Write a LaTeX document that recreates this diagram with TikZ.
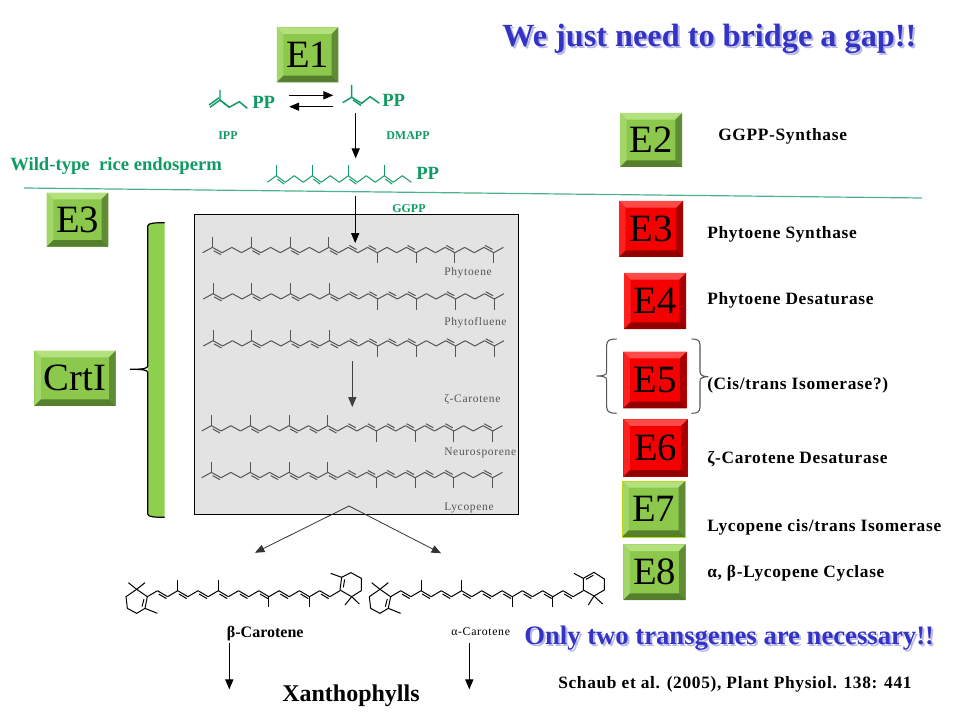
\documentclass[tikz,border=0pt]{standalone}
\usepackage{fontspec}
\setmainfont{Liberation Serif}
\newfontfamily\spaced[LetterSpace=6]{Liberation Serif}
\newfontfamily\spacedbf[LetterSpace=4]{Liberation Serif Bold}
\usetikzlibrary{arrows}
\usetikzlibrary{calc}
\definecolor{leafgreen}{HTML}{119A62}
\definecolor{titleblue}{HTML}{3333C4}
\definecolor{greyink}{HTML}{555555}
\tikzset{
 bond/.style = {line width=0.75pt},
 arrow/.style = {-triangle 45, line width=0.7pt},
 boxsize/.style 2 args = {minimum width=#1*0.75pt, minimum height=#2*0.75pt},
 bevel/.style n args = {5}{fill=#1, path picture={
   \coordinate (nw) at (path picture bounding box.north west);
   \coordinate (ne) at (path picture bounding box.north east);
   \coordinate (sw) at (path picture bounding box.south west);
   \coordinate (se) at (path picture bounding box.south east);
   \fill[#2] (nw) -- (ne) -- ([shift={(-5pt,-5pt)}]ne) -- ([shift={(5pt,-5pt)}]nw) -- cycle;
   \fill[#3] (nw) -- (sw) -- ([shift={(5pt,5pt)}]sw) -- ([shift={(5pt,-5pt)}]nw) -- cycle;
   \fill[#4] (ne) -- (se) -- ([shift={(-5pt,5pt)}]se) -- ([shift={(-5pt,-5pt)}]ne) -- cycle;
   \fill[#5] (sw) -- (se) -- ([shift={(-5pt,5pt)}]se) -- ([shift={(5pt,5pt)}]sw) -- cycle;
 }},
 enzbox/.style = {inner sep=0pt, font=\fontsize{29}{29}\selectfont},
 greenbox/.style = {enzbox, bevel={greenface}{greentop}{greenleft}{greenright}{greenbot}},
 redbox/.style = {enzbox, bevel={redface}{redtop}{redleft}{redright}{redbot}},
 enzlabel/.style = {anchor=west, inner sep=0pt, font=\fontsize{13}{13}\spacedbf},
 greenlabel/.style = {anchor=west, inner sep=0pt, text=leafgreen, font=\fontsize{9}{9}\bfseries\selectfont},
 pplabel/.style = {anchor=west, inner sep=0pt, text=leafgreen, font=\fontsize{14}{14}\bfseries\selectfont},
 boxlabel/.style = {anchor=west, inner sep=0pt, text=greyink, font=\fontsize{8.6}{9}\spaced},
 bluetitle/.style = {anchor=west, inner sep=0pt, text=titleblue, font=\fontsize{24.2}{25}\bfseries\selectfont},
 blueshadow/.style = {bluetitle, text=titleblue!35},
}
\definecolor{greenface}{HTML}{8CC84B}
\definecolor{greentop}{HTML}{B4E07E}
\definecolor{greenleft}{HTML}{A2D668}
\definecolor{greenright}{HTML}{5F8C34}
\definecolor{greenbot}{HTML}{557F2D}
\definecolor{barfill}{HTML}{8FD14F}
\definecolor{redface}{HTML}{F50000}
\definecolor{redtop}{HTML}{FF4A4A}
\definecolor{redleft}{HTML}{FF2020}
\definecolor{redright}{HTML}{A80000}
\definecolor{redbot}{HTML}{930000}
% colour, start x, start y, step x, step y, last index, methyls, double bonds, flip index
\newcommand{\isochain}[9]{
 \begin{scope}[shift={(#2,#3)},bond,color=#1]
 \foreach \i in {0,...,#6} {
   \pgfmathsetmacro{\yy}{isodd(\i)?-#5:0}
   \coordinate (p\i) at (#4*\i,\yy);
 }
 \foreach \i [remember=\i as \j (initially 0)] in {1,...,#6}
   \draw (p\j) -- (p\i);
 \foreach \i/\s in {#7}
   \draw (p\i) -- ($(p\i)+(0,\s*10.5)$);
 \foreach \i in {#8} {
   \pgfmathtruncatemacro{\k}{\i+1}
   \pgfmathsetmacro{\off}{\i<#9?2.6:-2.6}
   \draw ($(p\i)!.12!(p\k)+(0,\off)$) -- ($(p\i)!.88!(p\k)+(0,\off)$);
 }
 \end{scope}
}
\newcommand{\leftring}[1]{
 \begin{scope}[shift={(#1,500)},x=0.25pt,y=-0.25pt,bond]
 \draw (82,290) -- (50,268) -- (18,290) -- (22,325) -- (50,340) -- (75,325) -- cycle;
 \draw (72,297) -- (66,320);
 \draw (50,268) -- (25,248) (50,268) -- (75,248);
 \draw (75,325) -- (112,340);
 \end{scope}
}
\begin{document}
\begin{tikzpicture}[x=0.75pt,y=-0.75pt]
\useasboundingbox (0,0) rectangle (960,720);

% grey panel with the chains
\node[draw=black, line width=0.8pt, fill=black!11, boxsize={324.5}{300.5}, inner sep=0pt] (panel) at (356.3,364.6) {};
\isochain{greyink}{202.7}{252.7}{9.7}{5.3}{31}{1/-1,5/-1,9/-1,13/-1,18/1,22/1,26/1,30/1}{1,5,9,13,15,17,21,25,29}{15}
\isochain{greyink}{203.3}{299}{9.7}{5.3}{31}{1/-1,5/-1,9/-1,13/-1,18/1,22/1,26/1,30/1}{1,5,9,13,15,17,19,21,25,29}{15}
\isochain{greyink}{203.3}{346}{9.7}{5.3}{31}{1/-1,5/-1,9/-1,13/-1,18/1,22/1,26/1,30/1}{1,5,9,11,13,15,17,19,21,25,29}{15}
\isochain{greyink}{201.7}{431}{9.7}{5.3}{31}{1/-1,5/-1,9/-1,13/-1,18/1,22/1,26/1,30/1}{1,5,9,11,13,15,17,19,21,23,25,29}{15}
\isochain{greyink}{201.7}{477.7}{9.7}{5.3}{31}{1/-1,5/-1,9/-1,13/-1,18/1,22/1,26/1,30/1}{1,5,7,9,11,13,15,17,19,21,23,25,29}{15}
\node[boxlabel] (phytoene) at (444,272.5) {Phytoene};
\node[boxlabel] (phytofluene) at (444,322.5) {Phytofluene};
\node[boxlabel] (zcarotene) at (444,399.5) {ζ-Carotene};
\node[boxlabel] (neurosporene) at (444,452.5) {Neurosporene};
\node[boxlabel] (lycopene) at (444,507.5) {Lycopene};

% green precursors
\begin{scope}[color=leafgreen, line width=1.1pt]
 \draw (229.3,107.3) -- (220,100) -- (220,90);
 \draw (220,100) -- (210,107.3) (219,97.8) -- (209,105);
 \draw (220,100) -- (229.3,107.3) -- (239.3,101.7) -- (247.3,108.3);
 \draw (342.7,102.7) -- (351.7,97.3) -- (351.7,85);
 \draw (351.7,97.3) -- (361.7,103.3) -- (370,96.7) -- (379.3,103.3);
 \draw (353,100) -- (361,105.5);
\end{scope}
\isochain{leafgreen}{267.3}{182.3}{9}{6.6}{16}{1/-1,5/-1,9/-1,13/-1}{1,5,9,13}{16}
\node[pplabel] (ppa) at (252,102) {PP};
\node[pplabel] (ppb) at (382,100) {PP};
\node[pplabel] (ppc) at (416,173) {PP};
\node[greenlabel] (ipp) at (218,135.5) {IPP};
\node[greenlabel] (dmapp) at (386,135.5) {DMAPP};
\node[greenlabel] (ggpp) at (392,208.5) {GGPP};
\node[anchor=west, inner sep=0pt, text=leafgreen, font=\fontsize{14}{14}\bfseries\selectfont] (wildtype) at (10,166) {Wild-type~ rice endosperm};
\coordinate (linel) at (24,188);
\coordinate (liner) at (922,198);
\draw[color=leafgreen!75, line width=0.9pt] (linel) -- (liner);

% enzymes
\node[greenbox, boxsize={61.5}{55}] (eone) at (307.5,54.8) {E1};
\node[greenbox, boxsize={62}{54}] (etwo) at (651,140) {E2};
\node[redbox, boxsize={64}{56}] (ethree) at (651,229) {E3};
\node[redbox, boxsize={62}{56}] (efour) at (655,301) {E4};
\node[redbox, boxsize={63.4}{56.6}] (efive) at (655,380) {E5};
\node[redbox, boxsize={64.4}{57.4}] (esix) at (655.5,448) {E6};
\node[greenbox, draw=yellow!70!green, line width=0.6pt, boxsize={63}{56}] (eseven) at (653.7,509) {E7};
\node[greenbox, boxsize={62.4}{55.7}] (eeight) at (654.5,572.2) {E8};
\node[greenbox, boxsize={61.6}{54}] (ethreeg) at (77.5,219.7) {E3};
\node[greenbox, boxsize={81.4}{55.3}] (crti) at (75,378.3) {CrtI};

\node[enzlabel] (lgg) at (718,136.5) {GGPP-Synthase};
\node[enzlabel] (lps) at (707,234.5) {Phytoene Synthase};
\node[enzlabel] (lpd) at (707,300.5) {Phytoene Desaturase};
\node[enzlabel] (lci) at (707,385.5) {(Cis/trans Isomerase?)};
\node[enzlabel] (lzc) at (707,459.5) {ζ-Carotene Desaturase};
\node[enzlabel] (lly) at (707,527.5) {Lycopene cis/trans Isomerase};
\node[enzlabel] (lcy) at (707,573.5) {α, β-Lycopene Cyclase};

% braces
\fill[barfill] (147.7,226) .. controls (147.7,223) and (155,222.7) .. (164.7,222.7) -- (164.7,517.3) .. controls (155,517.3) and (147.7,517) .. (147.7,514) -- cycle;
\draw[line width=0.9pt] (164.7,222.7) .. controls (155,222.7) and (147.7,223) .. (147.7,226) -- (147.7,366) .. controls (147.7,368.5) and (143,369.3) .. (130,369.3) .. controls (143,369.3) and (147.7,370) .. (147.7,372.5) -- (147.7,514) .. controls (147.7,517) and (155,517.3) .. (164.7,517.3);
\draw[color=greyink, line width=0.8pt] (616.7,339) .. controls (610,339) and (606.7,340) .. (606.7,345) -- (606.7,372) .. controls (606.7,375) and (603,376) .. (596.7,376) .. controls (603,376) and (606.7,377) .. (606.7,380) -- (606.7,407) .. controls (606.7,412) and (610,413.3) .. (616.7,413.3);
\draw[color=greyink, line width=0.8pt] (691.7,339) .. controls (697,339) and (700,340) .. (700,345) -- (700,372) .. controls (700,375) and (703,376.7) .. (708.3,376.7) .. controls (703,376.7) and (700,378) .. (700,381) -- (700,407) .. controls (700,412) and (697,413.3) .. (691.7,413.3);

% arrows
\coordinate (eqtopl) at (289.3,95.3);
\coordinate (eqtopr) at (333.3,95.3);
\coordinate (eqbotr) at (333.3,106.7);
\coordinate (eqbotl) at (289.3,106.7);
\coordinate (dmappout) at (355.7,112.7);
\coordinate (ggppin) at (355.7,158.3);
\coordinate (ggppout) at (355.2,196);
\coordinate (phytin) at (355.2,243);
\coordinate (zout) at (352.3,361);
\coordinate (zin) at (352.3,407);
\coordinate (fork) at (349,506);
\coordinate (betain) at (255,552.7);
\coordinate (alphain) at (441,553.3);
\coordinate (betaout) at (229.3,643.3);
\coordinate (betaend) at (229.3,689.3);
\coordinate (alphaout) at (469.3,643.3);
\coordinate (alphaend) at (469.3,689.3);
\draw[arrow] (eqtopl) -- (eqtopr);
\draw[arrow] (eqbotr) -- (eqbotl);
\draw[arrow] (dmappout) -- (ggppin);
\draw[arrow] (ggppout) -- (phytin);
\draw[arrow, color=black!75] (zout) -- (zin);
\draw[arrow, color=black!80, line width=0.6pt] (fork) -- (betain);
\draw[arrow, color=black!80, line width=0.6pt] (fork) -- (alphain);
\draw[arrow] (betaout) -- (betaend);
\draw[arrow] (alphaout) -- (alphaend);

% carotenes
\leftring{120}
\isochain{black}{147.3}{596.7}{10.14}{6}{19}{3/-1,7/-1,12/1,16/1}{1,3,5,7,9,11,13,15,17}{19}
\begin{scope}[shift={(120,500)},x=0.25pt,y=-0.25pt,bond]
 \draw (660,270) -- (665,232) -- (693,218) -- (724,235) -- (724,272) -- (695,290) -- cycle;
 \draw (670,262) -- (674,238);
 \draw (665,232) -- (632,220);
 \draw (695,290) -- (675,315) (695,290) -- (718,312);
\end{scope}
\leftring{363.3}
\isochain{black}{390.6}{596.7}{10.14}{6}{19}{3/-1,7/-1,12/1,16/1}{1,3,5,7,9,11,13,15,17}{19}
\begin{scope}[shift={(363.3,500)},x=0.25pt,y=-0.25pt,bond]
 \draw (660,270) -- (660,235) -- (692,217) -- (723,237) -- (723,270) -- (692,288) -- cycle;
 \draw (668,238) -- (690,226);
 \draw (660,235) -- (632,220);
 \draw (692,288) -- (675,315) (692,288) -- (718,312);
\end{scope}
\node[anchor=west, inner sep=0pt, font=\fontsize{12}{12}\bfseries\selectfont] (lbeta) at (226.7,634) {β-Carotene};
\node[anchor=west, inner sep=0pt, font=\fontsize{8.8}{9}\spaced] (lalpha) at (451,631.5) {α-Carotene};
\node[anchor=west, inner sep=0pt, font=\fontsize{18}{18}\bfseries\selectfont] (xantho) at (282,695.5) {Xanthophylls};

% titles
\node[blueshadow] (gapshadow) at (504,41) {We just need to bridge a gap!!};
\node[bluetitle] (gap) at (502,39) {We just need to bridge a gap!!};
\node[blueshadow, font=\fontsize{20}{20}\bfseries\selectfont] (onlyshadow) at (526,640) {Only two transgenes are necessary!!};
\node[bluetitle, font=\fontsize{20}{20}\bfseries\selectfont] (only) at (524,638.5) {Only two transgenes are necessary!!};
\node[anchor=west, inner sep=0pt, font=\fontsize{13}{13}\spacedbf] (ref) at (558,684.5) {Schaub et al. (2005), Plant Physiol. 138: 441};
\end{tikzpicture}
\end{document}
